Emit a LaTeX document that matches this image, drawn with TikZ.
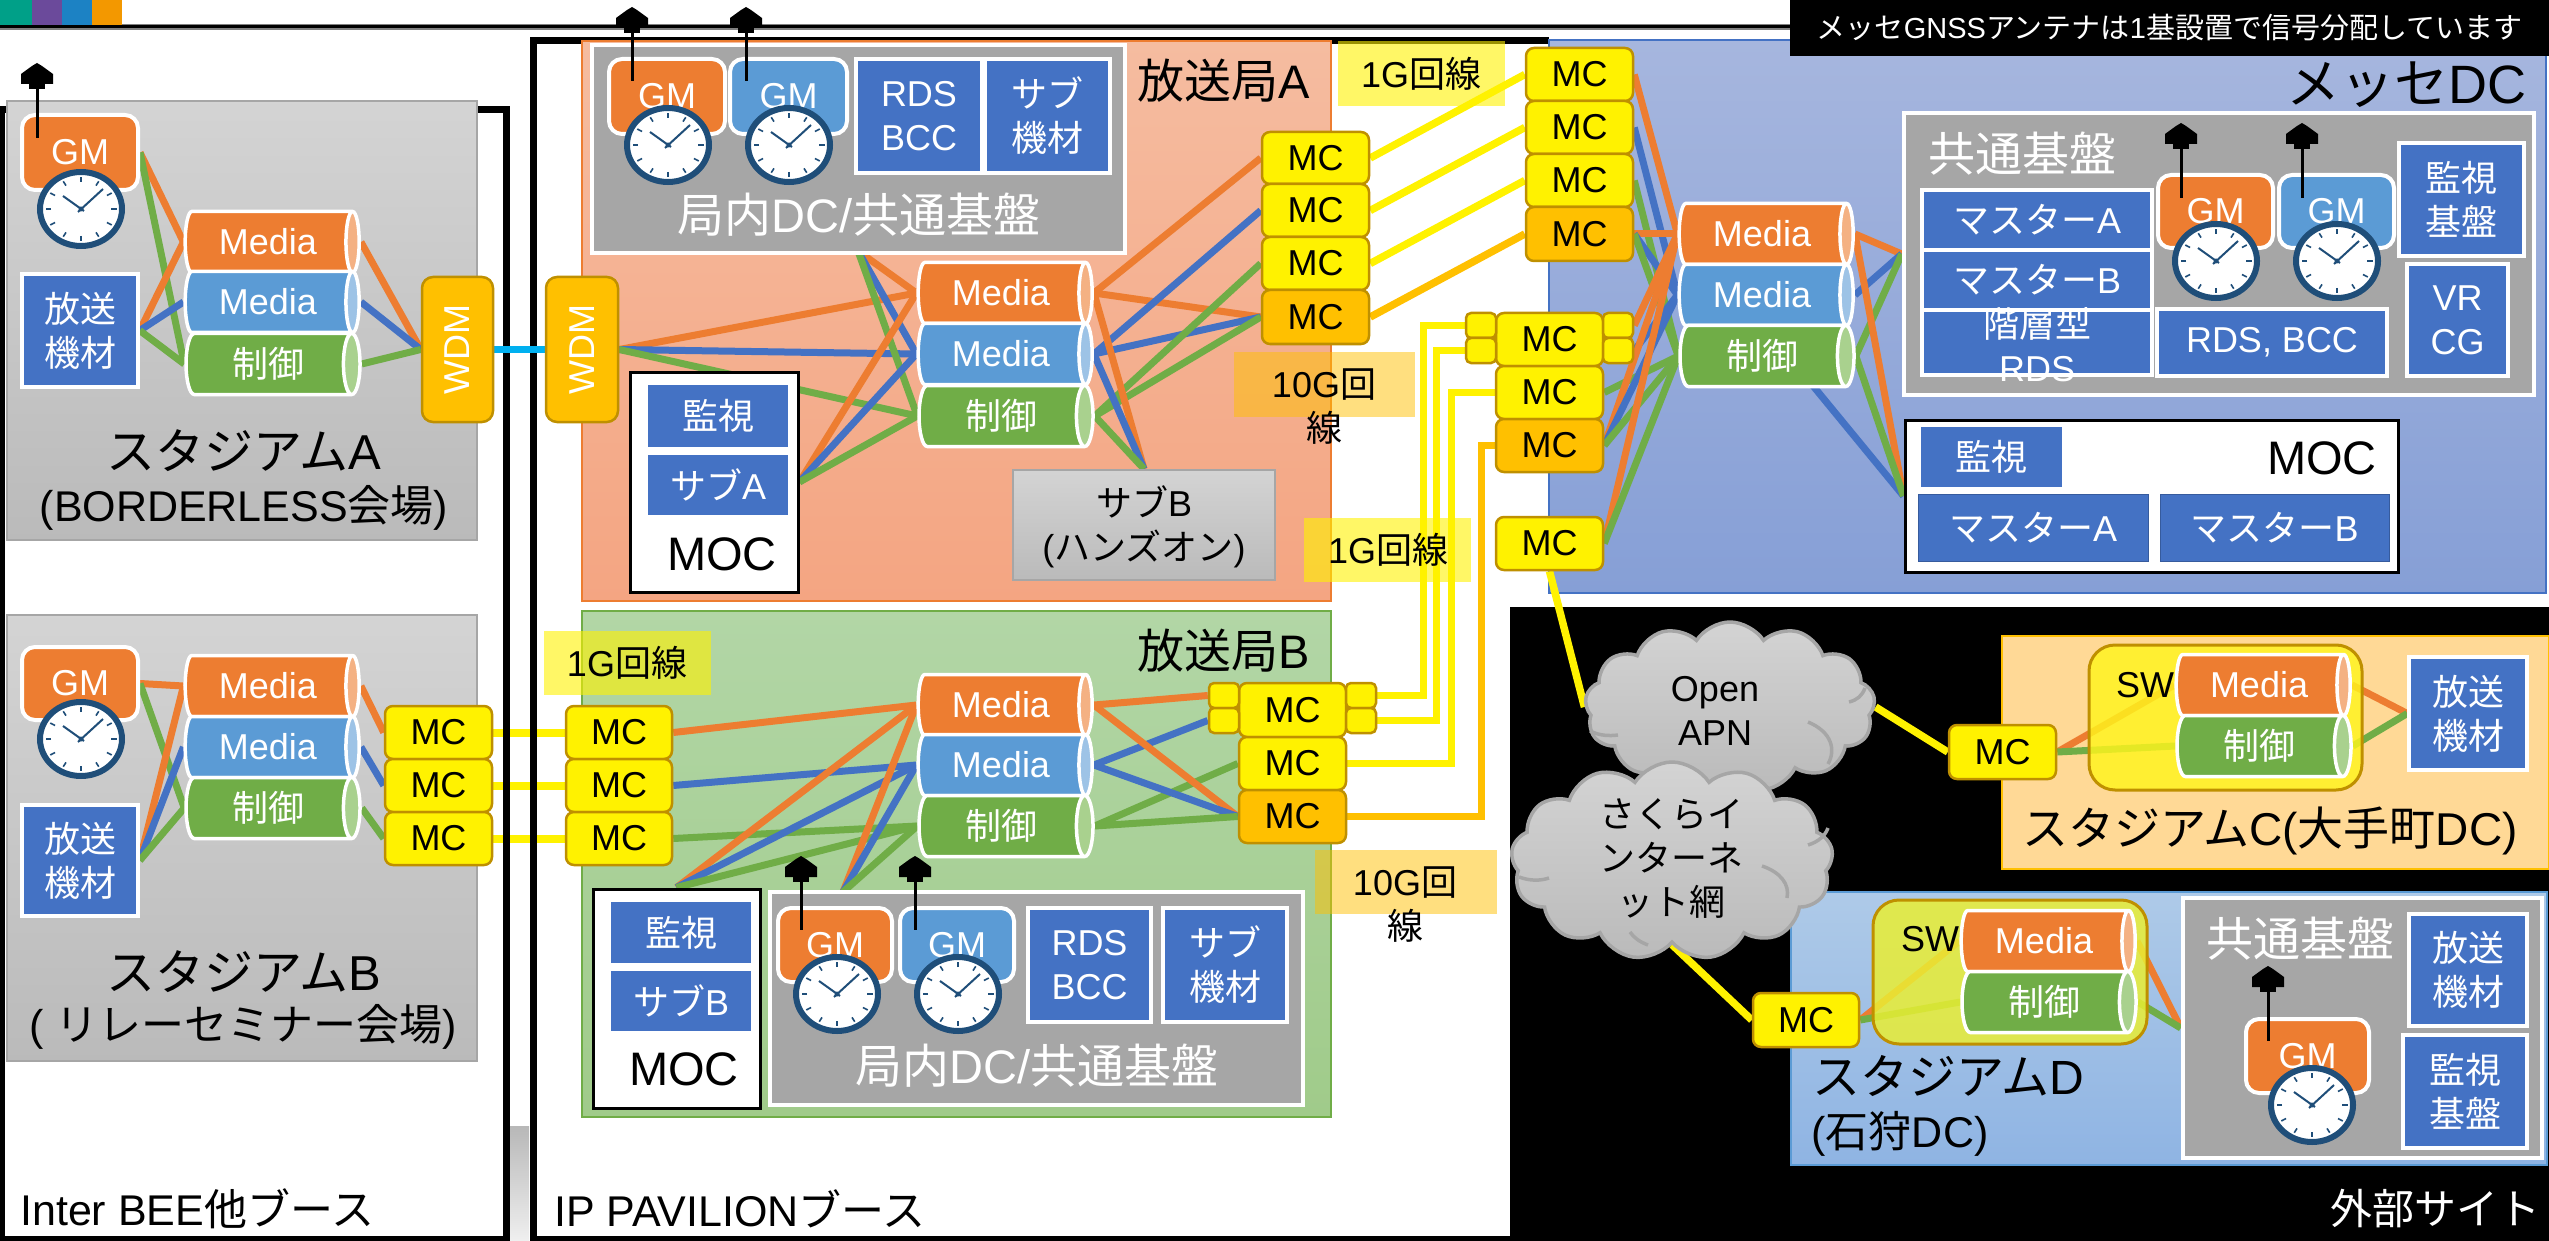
\documentclass[tikz,border=0pt]{standalone}
\usepackage{fontspec}
\setmainfont{Liberation Sans}
\newfontfamily\cjk{Noto Sans CJK JP}
\usetikzlibrary{shapes.geometric,shapes.symbols,calc}
\newcommand\J[1]{{\cjk #1}}
\newcommand\fa{\fontsize{36}{44}\selectfont}
\newcommand\fb{\fontsize{47}{54}\selectfont}
\newcommand\fc{\fontsize{43}{50}\selectfont}
\newcommand\fd{\fontsize{29}{34}\selectfont}
\newcommand\fe{\fontsize{43}{50}\selectfont}
\newcommand\ff{\fontsize{49}{56}\selectfont}
\definecolor{cor}{HTML}{ED7D31}
\definecolor{clo}{HTML}{F4B183}
\definecolor{cbl}{HTML}{5B9BD5}
\definecolor{cll}{HTML}{9DC3E6}
\definecolor{cgr}{HTML}{70AD47}
\definecolor{clg}{HTML}{A9D18E}
\definecolor{bxb}{HTML}{4472C4}
\definecolor{gold}{HTML}{FFC000}
\definecolor{gol}{HTML}{BF9000}
\definecolor{gry}{HTML}{A6A6A6}
\definecolor{clkb}{HTML}{1F4E79}
\definecolor{cyn}{HTML}{00B0F0}
\definecolor{sq1}{HTML}{00A088}
\definecolor{sq2}{HTML}{6B4A9B}
\definecolor{sq3}{HTML}{1C82C4}
\definecolor{sq4}{HTML}{F39800}
\definecolor{ra1}{HTML}{F5BCA0}
\definecolor{ra2}{HTML}{F4A582}
\definecolor{rb1}{HTML}{B2D6A6}
\definecolor{rb2}{HTML}{A0CB8A}
\definecolor{re1}{HTML}{A6B6DE}
\definecolor{re2}{HTML}{869FD6}
\definecolor{rc}{HTML}{FFD996}
\definecolor{rd1}{HTML}{AECAE8}
\definecolor{rd2}{HTML}{8FB4E3}
\definecolor{swc}{HTML}{FFF51D}
\definecolor{swd}{HTML}{E9EE34}
\pgfdeclarelayer{lowest}\pgfdeclarelayer{under}\pgfdeclarelayer{wires}
\pgfsetlayers{lowest,under,wires,main}
\tikzset{
 bb/.style={rectangle,draw=white,fill=bxb,line width=3.5pt,text=white,inner sep=0pt,align=center,font=\fa},
 pb/.style={rectangle,fill=bxb,text=white,inner sep=0pt,align=center,font=\fa},
 gm/.style={rectangle,rounded corners=13pt,draw=white,line width=4pt,fill=#1,text=white,inner sep=0pt,font=\fa},
 gb/.style={rectangle,draw=white,fill=gry,line width=4.5pt,inner sep=0pt},
 moc/.style={rectangle,draw=black,fill=white,line width=3pt,inner sep=0pt},
 mc/.style={rectangle,rounded corners=8pt,draw=gol,line width=2.5pt,fill=yellow,text=black,inner sep=0pt,font=\fa},
 mo/.style={mc,fill=gold},
 ms/.style={rectangle,rounded corners=5pt,draw=gol,line width=2.5pt,fill=yellow,inner sep=0pt},
 wdm/.style={rectangle,rounded corners=11pt,draw=gol,line width=2.5pt,fill=gold,text=white,inner sep=0pt},
 cy/.style 2 args={cylinder,shape border rotate=0,cylinder uses custom fill,cylinder body fill=#1,cylinder end fill=#2,
   draw=white,line width=3.5pt,shape aspect=0.5,minimum height=174pt,minimum width=61pt,inner sep=0pt,text=white,font=\fa,xshift=-4pt},
 wo/.style={cor,line width=7pt},
 wb/.style={bxb,line width=7pt},
 wg/.style={cgr,line width=7pt},
 wy/.style={yellow,line width=7.5pt},
 wn/.style={gold,line width=7.5pt},
 reg/.style={rectangle,line width=1.5pt,inner sep=0pt},
 stad/.style={reg,draw=gry,top color=black!17,bottom color=black!27},
 lab/.style={rectangle,inner sep=0pt,fill opacity=.6,fill=yellow},
 lbo/.style={rectangle,inner sep=0pt,fill opacity=.5,fill=gold},
 tb/.style={inner sep=0pt,text=black,align=center,font=\fa},
 tl/.style={inner sep=0pt,text=black,align=center,font=\fb},
 tw/.style={inner sep=0pt,text=white,align=center,font=\fb},
 sw/.style={rectangle,rounded corners=26pt,draw=gol,line width=3pt,inner sep=0pt},
 cl/.style={cloud,cloud puffs=13,cloud puff arc=115,draw=gry,line width=3.5pt,top color=black!17,bottom color=black!27,inner sep=0pt},
 clin/.style={gry,line width=3.5pt},
}
\newcommand\bx[7]{\pgfmathsetmacro\bw{#5-#3}\pgfmathsetmacro\bh{#6-#4}%
 \node[#1,minimum width=\bw pt,minimum height=\bh pt] (#2) at ({(#3+#5)/2},{(#4+#6)/2}) {#7};}
\newcommand\clk[2]{\begin{scope}[shift={(#1,#2)}]
 \draw[fill=white,draw=clkb,line width=6pt] (0,0) ellipse [x radius=41, y radius=37];
 \foreach \a in {0,30,...,330}{\draw[clkb,line width=1.6pt] ({30*cos(\a)},{27*sin(\a)}) -- ({35.5*cos(\a)},{32*sin(\a)});}
 \draw[clkb,line width=2pt] (-3,3) -- (22,-20);
 \draw[clkb,line width=2pt] (3,2) -- (-18,-13);
 \fill[clkb] (0,0) circle [radius=2.5];
\end{scope}}
\newcommand\ant[3]{\fill[black] (#1,#2) -- (#1+5,#2+3) -- (#1+16,#2+11) -- (#1+16,#2+21) -- (#1-16,#2+21) -- (#1-16,#2+11) -- (#1-5,#2+3) -- cycle;
 \fill[black] (#1-8,#2+21) rectangle (#1+8,#2+26);
 \draw[black,line width=3pt] (#1,#2+24) -- (#1,#3);}
\newcommand\cyl[6]{\node[cy={#2}{#3}] (#1) at (#4,#5) {#6};}
\begin{document}
\begin{tikzpicture}[x=1pt,y=-1pt]
\useasboundingbox (0,0) rectangle (2549,1241);
% ---------- lowest
\begin{pgfonlayer}{lowest}
 \fill[white] (0,0) rectangle (2549,1241);
\end{pgfonlayer}
% ---------- frames & regions
\begin{pgfonlayer}{under}
 \fill[top color=black!28,bottom color=black!6] (510,1126) rectangle (529,1241);
 \draw[black,line width=7pt] (1,110) rectangle (506,1239);
 \draw[black,line width=7pt] (1549,41) -- (533,41) -- (533,1239) -- (1510,1239);
 \fill[black] (1510,607) rectangle (2549,1241);
 \fill[black!50] (0,24) rectangle (1790,30);
 \fill[black] (0,25.5) rectangle (1790,28.5);
 \fill[sq1] (0,0) rectangle (32,25);
 \fill[sq2] (32,0) rectangle (62,25);
 \fill[sq3] (62,0) rectangle (92,25);
 \fill[sq4] (92,0) rectangle (122,25);
 \bx{stad}{stA}{7}{101}{477}{540}{}
 \bx{stad}{stB}{7}{615}{477}{1061}{}
 \bx{reg,draw=cor,top color=ra1,bottom color=ra2}{brA}{582}{41}{1331}{601}{}
 \bx{reg,draw=cgr,top color=rb1,bottom color=rb2}{brB}{582}{611}{1331}{1117}{}
 \bx{reg,draw=bxb,top color=re1,bottom color=re2}{mes}{1549}{40}{2546}{593}{}
 \bx{reg,draw=gold,fill=rc}{stC}{2002}{636}{2549}{869}{}
 \bx{reg,draw=cbl,top color=rd1,bottom color=rd2}{stD}{1791}{892}{2547}{1165}{}
\end{pgfonlayer}
% ---------- Stadium A
\bx{gm=cor}{gA}{22}{115}{138}{190}{GM}
\clk{81}{209}
\ant{37}{63}{138}
\bx{bb}{eqA}{22}{274}{138}{387}{\J{放送}\\\J{機材}}
\cyl{aM}{cor}{clo}{272}{242}{Media}
\cyl{aB}{cbl}{cll}{272}{302}{Media}
\cyl{aC}{cgr}{clg}{272}{364}{\J{制御}}
\bx{wdm}{wL}{422}{277}{493}{422}{}
\node[rotate=90,text=white,font=\fa,inner sep=0pt] (wLt) at (wL) {WDM};
\bx{wdm}{wR}{546}{277}{618}{422}{}
\node[rotate=90,text=white,font=\fa,inner sep=0pt] (wRt) at (wR) {WDM};
\node[tl,font=\ff] (tA1) at (244,451) {\J{スタジアム}A};
\node[tb,font=\fc] (tA2) at (244,508) {(BORDERLESS\J{会場})};
% ---------- Stadium B
\bx{gm=cor}{gB}{22}{647}{138}{720}{GM}
\clk{81}{739}
\bx{bb}{eqB}{22}{805}{138}{916}{\J{放送}\\\J{機材}}
\cyl{bM}{cor}{clo}{272}{686}{Media}
\cyl{bB}{cbl}{cll}{272}{747}{Media}
\cyl{bC}{cgr}{clg}{272}{808}{\J{制御}}
\bx{mc}{sb1}{385}{706}{492}{759}{MC}
\bx{mc}{sb2}{385}{759}{492}{812}{MC}
\bx{mc}{sb3}{385}{812}{492}{865}{MC}
\node[tl,font=\ff] (tB1) at (244,972) {\J{スタジアム}B};
\node[tb,font=\fc] (tB2) at (243,1027) {( \J{リレーセミナー会場})};
\node[tb,font=\fe,anchor=west] (tI) at (20,1209) {Inter BEE\J{他ブース}};
\node[tb,font=\fe,anchor=west] (tP) at (554,1209) {IP PAVILION\J{ブース}};
% ---------- Station A
\bx{gb}{dcA}{592}{45}{1125}{253}{}
\bx{gm=cor}{g1}{609}{59}{725}{134}{GM}
\bx{gm=cbl}{g2}{730}{59}{847}{134}{GM}
\clk{668}{145}\clk{789}{145}
\ant{632}{7}{81}\ant{746}{7}{81}
\bx{bb}{rA}{856}{59}{982}{173}{RDS\\BCC}
\bx{bb}{sA}{985}{59}{1110}{173}{\J{サブ}\\\J{機材}}
\node[tw] (tDA) at (859,215) {\J{局内}DC/\J{共通基盤}};
\node[tl] (tSA) at (1224,81) {\J{放送局}A};
\bx{moc}{mocA}{630}{372}{798}{592}{}
\bx{pb}{mA1}{648}{385}{788}{447}{\J{監視}}
\bx{pb}{mA2}{648}{455}{788}{515}{\J{サブ}A}
\node[tl] (tMA) at (722,554) {MOC};
\cyl{cM}{cor}{clo}{1005}{293}{Media}
\cyl{cB}{cbl}{cll}{1005}{354}{Media}
\cyl{cC}{cgr}{clg}{1005}{416}{\J{制御}}
\bx{mc}{am1}{1262}{132}{1369}{184}{MC}
\bx{mc}{am2}{1262}{184}{1369}{237}{MC}
\bx{mc}{am3}{1262}{237}{1369}{290}{MC}
\bx{mo}{am4}{1262}{290}{1369}{344}{MC}
\bx{stad,line width=2pt}{subB}{1013}{470}{1275}{580}{}
\node[tb] (tsb) at (1144,527) {\J{サブ}B\\(\J{ハンズオン})};
\coordinate (dcAo) at (858,251);
% ---------- Station B
\node[tl] (tSB) at (1224,651) {\J{放送局}B};
\cyl{dM}{cor}{clo}{1005}{705}{Media}
\cyl{dB}{cbl}{cll}{1005}{765}{Media}
\cyl{dC}{cgr}{clg}{1005}{826}{\J{制御}}
\bx{mc}{lm1}{566}{706}{672}{759}{MC}
\bx{mc}{lm2}{566}{759}{672}{812}{MC}
\bx{mc}{lm3}{566}{812}{672}{865}{MC}
\bx{moc}{mocB}{593}{889}{760}{1108}{}
\bx{pb}{mB1}{611}{902}{751}{963}{\J{監視}}
\bx{pb}{mB2}{611}{971}{751}{1031}{\J{サブ}B}
\node[tl] (tMB) at (684,1069) {MOC};
\bx{gb}{dcB}{770}{892}{1303}{1105}{}
\bx{gm=cor}{g3}{778}{908}{892}{982}{GM}
\bx{gm=cbl}{g4}{900}{908}{1014}{982}{GM}
\clk{837}{994}\clk{958}{994}
\ant{801}{856}{930}\ant{915}{856}{930}
\bx{bb}{rB}{1028}{908}{1151}{1022}{RDS\\BCC}
\bx{bb}{sBB}{1163}{908}{1287}{1022}{\J{サブ}\\\J{機材}}
\node[tw] (tDB) at (1037,1066) {\J{局内}DC/\J{共通基盤}};
\bx{mc}{bm1}{1239}{683}{1346}{737}{MC}
\bx{mc}{bm2}{1239}{737}{1346}{790}{MC}
\bx{mo}{bm3}{1239}{790}{1346}{843}{MC}
\bx{ms}{bsl1}{1209}{683}{1239}{708}{}
\bx{ms}{bsl2}{1209}{708}{1239}{733}{}
\bx{ms}{bsr1}{1346}{683}{1376}{708}{}
\bx{ms}{bsr2}{1346}{708}{1376}{733}{}
\coordinate (dcBo) at (843,892);
% ---------- MC stacks upper
\bx{mc}{um1}{1526}{48}{1633}{101}{MC}
\bx{mc}{um2}{1526}{101}{1633}{154}{MC}
\bx{mc}{um3}{1526}{154}{1633}{207}{MC}
\bx{mo}{um4}{1526}{207}{1633}{261}{MC}
\bx{mc}{mm1}{1496}{313}{1603}{366}{MC}
\bx{mc}{mm2}{1496}{366}{1603}{419}{MC}
\bx{mo}{mm3}{1496}{419}{1603}{472}{MC}
\bx{ms}{msl1}{1466}{313}{1496}{338}{}
\bx{ms}{msl2}{1466}{338}{1496}{363}{}
\bx{ms}{msr1}{1603}{313}{1633}{338}{}
\bx{ms}{msr2}{1603}{338}{1633}{363}{}
\bx{mc}{mx}{1496}{517}{1603}{570}{MC}
% ---------- Messe
\cyl{eM}{cor}{clo}{1766}{234}{Media}
\cyl{eB}{cbl}{cll}{1766}{295}{Media}
\cyl{eC}{cgr}{clg}{1766}{356}{\J{制御}}
\node[tb,font=\fontsize{54}{60}\selectfont,anchor=east] (tME) at (2527,85) {\J{メッセ}DC};
\bx{gb}{cmE}{1904}{113}{2534}{395}{}
\node[tw,anchor=west] (tCE) at (1928,154) {\J{共通基盤}};
\bx{bb}{e1}{1922}{190}{2152}{250}{\J{マスター}A}
\bx{bb}{e2}{1922}{250}{2152}{310}{\J{マスター}B}
\bx{bb}{e3}{1922}{310}{2152}{375}{}
\node[tb,text=white] (e3t) at (2037,345) {\J{階層型}\\RDS};
\bx{gm=cor}{g5}{2158}{175}{2273}{248}{GM}
\bx{gm=cbl}{g6}{2279}{175}{2394}{248}{GM}
\clk{2216}{261}\clk{2337}{261}
\ant{2181}{123}{198}\ant{2302}{123}{198}
\bx{bb}{e4}{2157}{309}{2387}{376}{RDS, BCC}
\bx{bb}{e5}{2399}{143}{2524}{256}{\J{監視}\\\J{基盤}}
\bx{bb}{e6}{2407}{264}{2508}{376}{VR\\CG}
\bx{moc}{mocE}{1905}{420}{2398}{572}{}
\bx{pb}{m1}{1921}{427}{2062}{487}{\J{監視}}
\node[tl] (tME2) at (2322,458) {MOC};
\bx{pb,draw=bxb!80!black,line width=1pt}{m2}{1918}{494}{2148}{561}{\J{マスター}A}
\bx{pb,draw=bxb!80!black,line width=1pt}{m3}{2160}{494}{2389}{561}{\J{マスター}B}
\bx{rectangle,fill=black,text=white,inner sep=0pt,font=\fd}{nt}{1790}{0}{2549}{56}{\J{メッセ}GNSS\J{アンテナは}1\J{基設置で信号分配しています}}
% ---------- Clouds
\node[cl,minimum width=290pt,minimum height=170pt,aspect=1.7] (c1) at (1730,707) {};
\draw[clin] (1808,722) .. controls (1832,732) and (1836,750) .. (1828,764);
\draw[clin] (1849,702) .. controls (1857,700) and (1862,696) .. (1865,688);
\draw[clin] (1590,731) .. controls (1600,736) and (1610,736) .. (1618,735);
\node[tb] (c1t) at (1715,711) {Open\\APN};
\node[cl,minimum width=322pt,minimum height=198pt,aspect=1.6] (c2) at (1672,861) {};
\draw[clin] (1762,866) .. controls (1780,872) and (1790,884) .. (1787,898);
\draw[clin] (1808,845) .. controls (1818,842) and (1825,836) .. (1828,828);
\draw[clin] (1519,877) .. controls (1530,881) and (1540,881) .. (1549,878);
\draw[clin] (1630,932) .. controls (1634,938) and (1640,942) .. (1648,945);
\node[tb] (c2t) at (1671,858) {\J{さくらイ}\\\J{ンターネ}\\\J{ット網}};
\node[tb,text=white,font=\fontsize{42}{48}\selectfont,anchor=east] (tEx) at (2541,1209) {\J{外部サイト}};
% ---------- Stadium C
\bx{bb}{eqC}{2409}{657}{2527}{770}{\J{放送}\\\J{機材}}
\bx{sw,fill=swc,fill opacity=.82,text opacity=1}{swC}{2089}{645}{2362}{790}{}
\node[tb] (swCt) at (2145,685) {SW};
\cyl{fM}{cor}{clo}{2263}{685}{Media}
\cyl{fC}{cgr}{clg}{2263}{746}{\J{制御}}
\bx{mc}{mcC}{1949}{725}{2056}{779}{MC}
\node[tb,font=\fontsize{46}{52}\selectfont] (tC) at (2270,831) {\J{スタジアム}C(\J{大手町}DC)};
% ---------- Stadium D
\bx{sw,fill=swd,fill opacity=.85,text opacity=1}{swD}{1873}{900}{2147}{1044}{}
\node[tb] (swDt) at (1930,939) {SW};
\cyl{hM}{cor}{clo}{2048}{941}{Media}
\cyl{hC}{cgr}{clg}{2048}{1002}{\J{制御}}
\bx{mc}{mcD}{1753}{993}{1859}{1047}{MC}
\bx{gb}{cmD}{2183}{898}{2542}{1158}{}
\node[tw,anchor=west] (tCD) at (2206,939) {\J{共通基盤}};
\bx{gm=cor}{g7}{2246}{1019}{2369}{1093}{GM}
\clk{2312}{1105}
\ant{2268}{966}{1041}
\bx{bb}{eqD}{2409}{914}{2527}{1026}{\J{放送}\\\J{機材}}
\bx{bb}{moD}{2403}{1035}{2527}{1148}{\J{監視}\\\J{基盤}}
\node[tl,font=\fontsize{48}{54}\selectfont] (tD1) at (1948,1076) {\J{スタジアム}D};
\node[tb,font=\fc] (tD2) at (1900,1134) {(\J{石狩}DC)};
% ---------- wires
\begin{pgfonlayer}{lowest}
 \draw[yellow,line width=8pt] (sb1.east) -- (lm1.west);
 \draw[yellow,line width=8pt] (sb2.east) -- (lm2.west);
 \draw[yellow,line width=8pt] (sb3.east) -- (lm3.west);
\end{pgfonlayer}
\begin{pgfonlayer}{wires}
 % stadium A
 \draw[wo] (gA.east) -- (aM.west);
 \draw[wg] (gA.east) -- (aC.west);
 \draw[wo] (eqA.east) -- (aM.west);
 \draw[wb] (eqA.east) -- (aB.west);
 \draw[wg] (eqA.east) -- (aC.west);
 \draw[wo] (aM.east) -- (wL.west);
 \draw[wb] (aB.east) -- (wL.west);
 \draw[wg] (aC.east) -- (wL.west);
 \draw[wo] (wR.east) -- (cM.west);
 \draw[wb] (wR.east) -- (cB.west);
 \draw[wg] (wR.east) -- (cC.west);
 \draw[cyn,line width=7pt] (wL.east) -- (wR.west);
 % stadium B
 \draw[wo] (gB.east) -- (bM.west);
 \draw[wg] (gB.east) -- (bC.west);
 \draw[wo] (eqB.east) -- (bM.west);
 \draw[wb] (eqB.east) -- (bB.west);
 \draw[wg] (eqB.east) -- (bC.west);
 \draw[wo] (bM.east) -- (sb1.west);
 \draw[wb] (bB.east) -- (sb2.west);
 \draw[wg] (bC.east) -- (sb3.west);
 % station A
 \draw[wo] (dcAo) -- (cM.west);
 \draw[wb] (dcAo) -- (cB.west);
 \draw[wg] (dcAo) -- (cC.west);
 \draw[wo] (mocA.east) -- (cM.west);
 \draw[wb] (mocA.east) -- (cB.west);
 \draw[wg] (mocA.east) -- (cC.west);
 \draw[wo] (cM.east) -- (am1.west);
 \draw[wo] (cM.east) -- (am4.west);
 \draw[wb] (cB.east) -- (am2.west);
 \draw[wb] (cB.east) -- (am4.west);
 \draw[wg] (cC.east) -- (am3.west);
 \draw[wg] (cC.east) -- (am4.west);
 \draw[wo] (cM.east) -- (subB.north);
 \draw[wb] (cB.east) -- (subB.north);
 \draw[wg] (cC.east) -- (subB.north);
 \draw[wy] (am1.east) -- (um1.west);
 \draw[wy] (am2.east) -- (um2.west);
 \draw[wy] (am3.east) -- (um3.west);
 \draw[wn] (am4.east) -- (um4.west);
 % station B
 \draw[wo] (lm1.east) -- (dM.west);
 \draw[wb] (lm2.east) -- (dB.west);
 \draw[wg] (lm3.east) -- (dC.west);
 \draw[wo] (mocB.north) -- (dM.west);
 \draw[wb] (mocB.north) -- (dB.west);
 \draw[wg] (mocB.north) -- (dC.west);
 \draw[wo] (dcBo) -- (dM.west);
 \draw[wb] (dcBo) -- (dB.west);
 \draw[wg] (dcBo) -- (dC.west);
 \draw[wo] (dM.east) -- (bsl1.west);
 \draw[wb] (dB.east) -- (bsl2.west);
 \draw[wg] (dC.east) -- (bm2.west);
 \draw[wo] (dM.east) -- (bm3.west);
 \draw[wb] (dB.east) -- (bm3.west);
 \draw[wg] (dC.east) -- (bm3.west);
 % bus
 \draw[wy] (bsr1.east) -- ++(46,0) |- (msl1.west);
 \draw[wy] (bsr2.east) -- ++(59,0) |- (msl2.west);
 \draw[wy] (bm2.east) -- ++(104,0) |- (mm2.west);
 \draw[wn] (bm3.east) -- ++(134,0) |- (mm3.west);
 % messe in
 \draw[wo] (um1.east) -- (eM.west);
 \draw[wb] (um2.east) -- (eB.west);
 \draw[wg] (um3.east) -- (eC.west);
 \draw[wo] (um4.east) -- (eM.west);
 \draw[wb] (um4.east) -- (eB.west);
 \draw[wg] (um4.east) -- (eC.west);
 \draw[wo] (msr1.east) -- (eM.west);
 \draw[wb] (msr2.east) -- (eB.west);
 \draw[wg] (mm2.east) -- (eC.west);
 \draw[wo] (mm3.east) -- (eM.west);
 \draw[wb] (mm3.east) -- (eB.west);
 \draw[wg] (mm3.east) -- (eC.west);
 \draw[wo] (mx.east) -- (eM.west);
 \draw[wg] (mx.east) -- (eC.west);
 % messe out
 \draw[wo] (eM.east) -- (cmE.west);
 \draw[wb] (eB.east) -- (cmE.west);
 \draw[wg] (eC.east) -- (cmE.west);
 \draw[wo] (eM.east) -- (mocE.west);
 \draw[wb] (eC.north) -- (mocE.west);
 \draw[wg] (eC.east) -- (mocE.west);
 % externals
 \draw[wy] (mx.south) -- (c1.west);
 \draw[wy] (c1.east) -- (mcC.west);
 \draw[wy] (c2.south) -- (mcD.west);
 \draw[wo] (mcC.east) -- (fM.west);
 \draw[wg] (mcC.east) -- (fC.west);
 \draw[wo] (fM.east) -- (eqC.west);
 \draw[wg] (fC.east) -- (eqC.west);
 \draw[wo] (mcD.east) -- (hM.west);
 \draw[wg] (mcD.east) -- (hC.west);
 \draw[wo] (hM.east) -- (cmD.west);
 \draw[wg] (hC.east) -- (cmD.west);
\end{pgfonlayer}
% ---------- translucent labels
\bx{lab}{l1}{1338}{41}{1505}{106}{}
\node[tb] (l1t) at (1421,74) {1G\J{回線}};
\bx{lbo}{l2}{1234}{352}{1415}{417}{}
\node[tb] (l2t) at (1324,407) {10G\J{回}\\\J{線}};
\bx{lab}{l3}{1304}{518}{1471}{582}{}
\node[tb] (l3t) at (1388,550) {1G\J{回線}};
\bx{lab}{l4}{544}{631}{711}{695}{}
\node[tb] (l4t) at (627,663) {1G\J{回線}};
\bx{lbo}{l5}{1315}{850}{1497}{914}{}
\node[tb] (l5t) at (1405,905) {10G\J{回}\\\J{線}};
\end{tikzpicture}
\end{document}
